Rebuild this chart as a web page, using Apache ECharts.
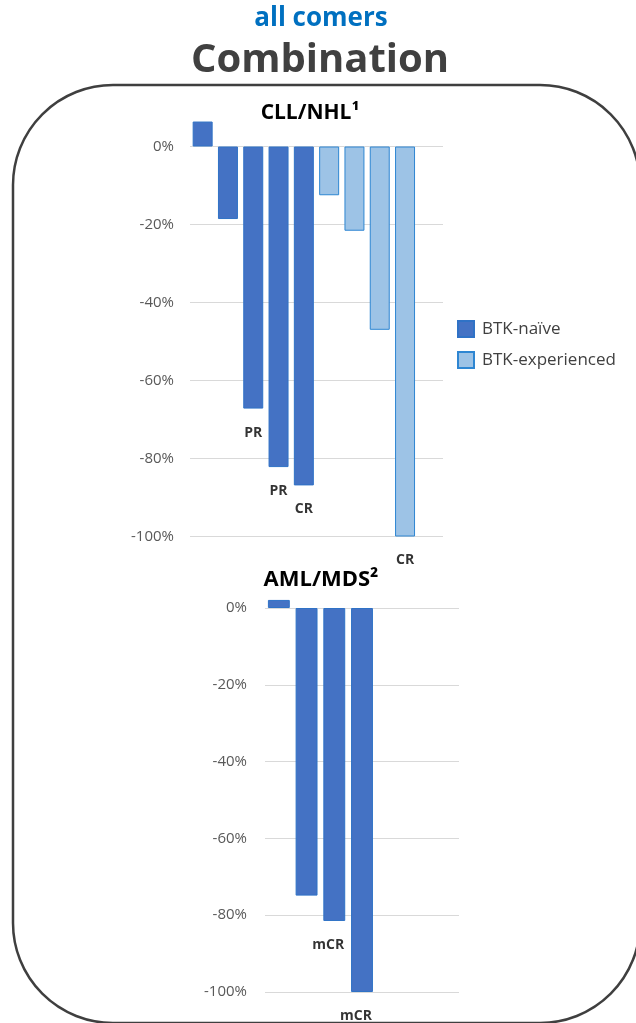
<!DOCTYPE html>
<html>
<head>
<meta charset="utf-8">
<script src="https://cdn.jsdelivr.net/npm/echarts@6/dist/echarts.min.js"></script>
<style>
  html, body { margin: 0; padding: 0; background: #fff; }
  #chart { width: 636px; height: 1023px; }
</style>
</head>
<body>
<div id="chart"></div>
<script>
// Best change in tumour burden per patient (%), combination therapy
const cllPatients = ['1', '2', '3', '4', '5', '6', '7', '8', '9', '10'];
const cllNaive = [6.4, -18.6, -67.2, -82.2, -86.9, null, null, null, null, null];
const cllExperienced = [null, null, null, null, null, -12.5, -21.6, -47, -100, null];
const cllResponses = ['', '', 'PR', 'PR', 'CR', '', '', '', 'CR', ''];

const amlPatients = ['1', '2', '3', '4', '5', '6', '7'];
const amlNaive = [2.1, -74.9, -81.5, -100, null, null, null];
const amlResponses = ['', '', 'mCR', 'mCR', '', '', ''];

const yTicks = { min: -100, max: 0, interval: 20 };

const FONT = '"Open Sans", "Noto Sans", sans-serif';
const DARK = '#4472C4';
const DARK_EDGE = '#2F72C6';
const LIGHT = '#9DC3E6';
const LIGHT_EDGE = '#2E86D2';
const GRID_LINE = '#d9d9d9';

// response labels sit just below the end of the bar they describe
function responsePoints(labels, ...valueSets) {
  const pts = [];
  labels.forEach((lab, i) => {
    if (!lab) return;
    let v = null;
    valueSets.forEach(vs => { if (vs[i] != null) v = vs[i]; });
    pts.push({ value: [i, v], label: { formatter: lab } });
  });
  return pts;
}

function valueAxis(gridIndex, margin) {
  return {
    type: 'value', gridIndex,
    min: yTicks.min, max: yTicks.max, interval: yTicks.interval,
    axisLine: { show: false }, axisTick: { show: false },
    axisLabel: { formatter: '{value}%', color: '#595959', fontSize: 15, fontFamily: FONT, margin },
    splitLine: { lineStyle: { color: GRID_LINE, width: 1.2 } }
  };
}

function categoryAxis(gridIndex, data) {
  return {
    type: 'category', gridIndex, data,
    axisLine: { show: false }, axisTick: { show: false }, axisLabel: { show: false },
    splitLine: { show: false }
  };
}

const labelStyle = { fontFamily: FONT, fontSize: 14, fontWeight: 'bold', color: '#000', lineHeight: 14 };

const chart = echarts.init(document.getElementById('chart'), null, { renderer: 'canvas' });
chart.setOption({
  animation: false,
  backgroundColor: '#fff',
  textStyle: { fontFamily: FONT },
  graphic: [
    {
      type: 'rect', z: 0, silent: true,
      shape: { x: 13, y: 85, width: 627, height: 938, r: 100 },
      style: { fill: 'none', stroke: '#3f3f3f', lineWidth: 2.5 }
    },
    {
      type: 'text', x: 321, y: 19,
      style: { text: 'all comers', fill: '#0070C0', font: 'bold 26px ' + FONT, textAlign: 'center', textVerticalAlign: 'middle' }
    },
    {
      type: 'text', x: 320, y: 61,
      style: { text: 'Combination', fill: '#404040', font: 'bold 40px ' + FONT, textAlign: 'center', textVerticalAlign: 'middle' }
    },
    {
      type: 'text', x: 310, y: 113,
      style: { text: 'CLL/NHL¹', fill: '#000', font: 'bold 21px ' + FONT, textAlign: 'center', textVerticalAlign: 'middle' }
    },
    {
      type: 'text', x: 321, y: 580,
      style: { text: 'AML/MDS²', fill: '#000', font: 'bold 22px ' + FONT, textAlign: 'center', textVerticalAlign: 'middle' }
    }
  ],
  legend: {
    data: ['BTK-naïve', 'BTK-experienced'],
    orient: 'vertical', left: 452, top: 315, icon: 'rect',
    itemWidth: 16, itemHeight: 16, itemGap: 13,
    textStyle: { fontFamily: FONT, fontSize: 17, color: '#404040', padding: [0, 0, 0, 3] }
  },
  grid: [
    { left: 190, top: 146.5, width: 253, height: 390 },
    { left: 265, top: 608, width: 194, height: 384 }
  ],
  xAxis: [categoryAxis(0, cllPatients), categoryAxis(1, amlPatients)],
  yAxis: [valueAxis(0, 16), valueAxis(1, 18)],
  series: [
    {
      name: 'BTK-naïve', type: 'bar', xAxisIndex: 0, yAxisIndex: 0,
      data: cllNaive, barCategoryGap: '21%', barGap: '-100%', clip: false,
      itemStyle: { color: DARK, borderColor: DARK_EDGE, borderWidth: 1 }
    },
    {
      name: 'BTK-experienced', type: 'bar', xAxisIndex: 0, yAxisIndex: 0,
      data: cllExperienced, barCategoryGap: '21%', barGap: '-100%', clip: false,
      itemStyle: { color: LIGHT, borderColor: LIGHT_EDGE, borderWidth: 1 }
    },
    {
      name: 'CLL response', type: 'scatter', xAxisIndex: 0, yAxisIndex: 0,
      symbolSize: 0, silent: true, clip: false,
      data: responsePoints(cllResponses, cllNaive, cllExperienced),
      label: Object.assign({ show: true, position: 'bottom', distance: 17 }, labelStyle)
    },
    {
      name: 'BTK-naïve', type: 'bar', xAxisIndex: 1, yAxisIndex: 1,
      data: amlNaive, barCategoryGap: '21%', clip: false,
      itemStyle: { color: DARK, borderColor: DARK_EDGE, borderWidth: 1 }
    },
    {
      name: 'AML response', type: 'scatter', xAxisIndex: 1, yAxisIndex: 1,
      symbolSize: 0, silent: true, clip: false,
      data: responsePoints(amlResponses, amlNaive),
      label: Object.assign({ show: true, position: 'bottom', distance: 17, offset: [-6, 0] }, labelStyle)
    }
  ]
});
</script>
</body>
</html>
